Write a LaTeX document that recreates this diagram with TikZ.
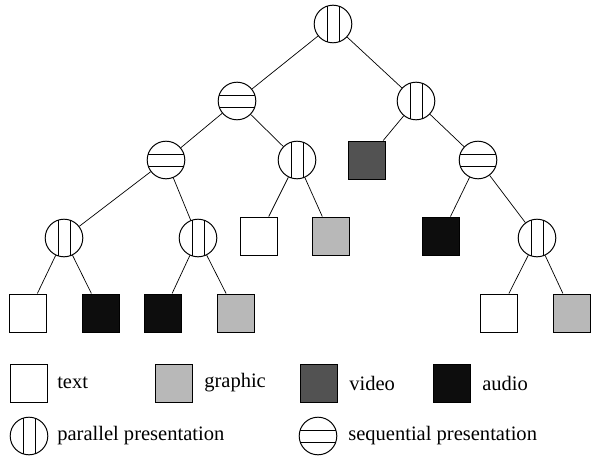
\documentclass[tikz,border=0pt]{standalone}
\usepackage{fontspec}
\setmainfont{Liberation Serif}
\usepackage{xcolor}
\definecolor{graphicgray}{gray}{0.72}
\definecolor{videogray}{gray}{0.32}
\definecolor{audioblack}{gray}{0.05}

\tikzset{
  media/.style={draw, line width=0.7pt, minimum width=0.93cm, minimum height=0.95cm, inner sep=0pt},
  textbox/.style={media, fill=white},
  graphicbox/.style={media, fill=graphicgray},
  videobox/.style={media, fill=videogray},
  audiobox/.style={media, fill=audioblack},
  present/.style={draw, circle, line width=0.7pt, minimum size=0.94cm, inner sep=0pt},
  parnode/.style={present, path picture={
      \draw[line width=0.7pt] ([xshift=-0.15cm]path picture bounding box.south) -- ([xshift=-0.15cm]path picture bounding box.north);
      \draw[line width=0.7pt] ([xshift=0.15cm]path picture bounding box.south) -- ([xshift=0.15cm]path picture bounding box.north);}},
  seqnode/.style={present, path picture={
      \draw[line width=0.7pt] ([yshift=-0.15cm]path picture bounding box.west) -- ([yshift=-0.15cm]path picture bounding box.east);
      \draw[line width=0.7pt] ([yshift=0.15cm]path picture bounding box.west) -- ([yshift=0.15cm]path picture bounding box.east);}},
  edge line/.style={line width=0.5pt},
  legend/.style={anchor=west, inner sep=0pt, font=\fontsize{14.6}{16}\selectfont}
}

\begin{document}
\begin{tikzpicture}[x=0.025cm, y=-0.025cm]
  \useasboundingbox (0,0) rectangle (602,459);

  % tree
  \node[parnode] (root) at (333,24) {};
  \node[seqnode] (s1) at (237,101) {};
  \node[parnode] (p1) at (416,101) {};
  \node[seqnode] (s2) at (166,160) {};
  \node[parnode] (p2) at (297,160) {};
  \node[videobox] (v1) at (367,160) {};
  \node[seqnode] (s3) at (478,160) {};
  \node[parnode] (p3) at (64,238) {};
  \node[parnode] (p4) at (198,238) {};
  \node[textbox] (t1) at (259,236) {};
  \node[graphicbox] (g1) at (331,236) {};
  \node[audiobox] (a1) at (441,236) {};
  \node[parnode] (p5) at (537,238) {};
  \node[textbox] (t2) at (28,313) {};
  \node[audiobox] (a2) at (101,313) {};
  \node[audiobox] (a3) at (163,313) {};
  \node[graphicbox] (g2) at (236,313) {};
  \node[textbox] (t3) at (499,313) {};
  \node[graphicbox] (g3) at (572,313) {};

  \draw[edge line] (root) -- (s1);
  \draw[edge line] (root) -- (p1);
  \draw[edge line] (s1) -- (s2);
  \draw[edge line] (s1) -- (p2);
  \draw[edge line] (p1) -- (v1);
  \draw[edge line] (p1) -- (s3);
  \draw[edge line] (s2) -- (p3);
  \draw[edge line] (s2) -- (p4);
  \draw[edge line] (p2) -- (t1);
  \draw[edge line] (p2) -- (g1);
  \draw[edge line] (s3) -- (a1);
  \draw[edge line] (s3) -- (p5);
  \draw[edge line] (p3) -- (t2);
  \draw[edge line] (p3) -- (a2);
  \draw[edge line] (p4) -- (a3);
  \draw[edge line] (p4) -- (g2);
  \draw[edge line] (p5) -- (t3);
  \draw[edge line] (p5) -- (g3);

  % legend
  \node[textbox] (ktext) at (29,383) {};
  \node[legend] (ltext) at (57,383) {text};
  \node[graphicbox] (kgraphic) at (174,383) {};
  \node[legend] (lgraphic) at (204,383) {graphic};
  \node[videobox] (kvideo) at (319,383) {};
  \node[legend] (lvideo) at (349,383) {video};
  \node[audiobox] (kaudio) at (452,383) {};
  \node[legend] (laudio) at (482,383) {audio};
  \node[parnode] (kpar) at (29,436) {};
  \node[legend] (lpar) at (57,436) {parallel presentation};
  \node[seqnode] (kseq) at (318,436) {};
  \node[legend] (lseq) at (348,436) {sequential presentation};
\end{tikzpicture}
\end{document}
